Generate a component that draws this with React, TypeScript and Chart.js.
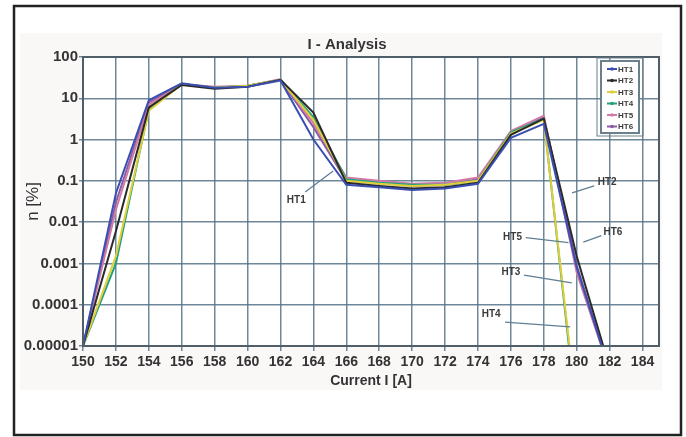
import React, { useEffect, useRef } from "react";
import { Chart, registerables } from "chart.js";

Chart.register(...registerables);

// ---- data ----
const currents = [150, 152, 154, 156, 158, 160, 162, 164, 166, 168, 170, 172, 174, 176, 178, 180, 182];
const ht1 = [1e-5, 0.05, 9, 23, 18, 19, 27, 1.0, 0.08, 0.07, 0.06, 0.065, 0.085, 1.1, 2.4, 0.0008, 2.5e-6];
const ht2 = [1e-5, 0.006, 6, 21, 17, 19, 28, 4.5, 0.09, 0.075, 0.065, 0.07, 0.09, 1.3, 3.2, 0.0015, 3e-6];
const ht3 = [1e-5, 0.0015, 5, 22, 18, 20, 28, 3, 0.1, 0.085, 0.075, 0.08, 0.1, 1.4, 3.0, 3e-7, 1e-8];
const ht4 = [1e-5, 0.001, 5.5, 22, 18, 20, 28, 3.5, 0.11, 0.09, 0.08, 0.08, 0.1, 1.5, 3.2, 2e-7, 1e-8];
const ht5 = [1e-5, 0.02, 7, 22, 19, 20, 29, 2.5, 0.12, 0.1, 0.085, 0.09, 0.12, 1.6, 3.8, 0.0006, 2.5e-6];
const ht6 = [1e-5, 0.03, 8, 22, 18, 20, 28, 2, 0.1, 0.09, 0.075, 0.08, 0.11, 1.4, 3.5, 0.0009, 2.5e-6];

const seriesNames = ["HT1", "HT2", "HT3", "HT4", "HT5", "HT6"];
const seriesValues = [ht1, ht2, ht3, ht4, ht5, ht6];
const seriesColors = ["#3a4fb0", "#2a2a2a", "#e0cf3a", "#23a07e", "#d07aa8", "#8a5aa8"];

const xTicks = [150, 152, 154, 156, 158, 160, 162, 164, 166, 168, 170, 172, 174, 176, 178, 180, 182, 184];
const yTicks = [1e-5, 1e-4, 1e-3, 1e-2, 1e-1, 1, 10, 100];
const yTickLabels = ["0.00001", "0.0001", "0.001", "0.01", "0.1", "1", "10", "100"];

const chartTitle = "I - Analysis";
const xTitle = "Current I [A]";
const yTitle = "n [%]";

// callout labels: text anchor and leader line, in data units
const calloutNames = ["HT1", "HT2", "HT6", "HT5", "HT3", "HT4"];
const calloutText = [[162.96, 0.0346], [181.85, 0.093], [182.2, 0.0057], [176.1, 0.0044], [176.0, 0.00062], [174.8, 0.00006]];
const calloutFrom = [[163.5, 0.054], [181.06, 0.076], [181.5, 0.0047], [176.9, 0.0042], [176.8, 0.00052], [175.65, 0.000038]];
const calloutTo = [[165.2, 0.174], [179.72, 0.051], [180.4, 0.0033], [179.5, 0.0032], [179.7, 0.00034], [179.6, 0.000029]];

const FONT = "'Liberation Sans', Arial, sans-serif";
const GRID = "rgba(85,115,135,0.85)";

const decorPlugin = {
  id: "decor",
  beforeDraw(chart: any) {
    const ctx = chart.ctx;
    ctx.save();
    ctx.fillStyle = "#ffffff";
    ctx.fillRect(0, 0, chart.width, chart.height);
    ctx.fillStyle = "#faf7f7";
    ctx.fillRect(20, 33, 642, 357);
    const a = chart.chartArea;
    ctx.fillStyle = "#ffffff";
    ctx.fillRect(a.left, a.top, a.right - a.left, a.bottom - a.top);
    ctx.restore();
  },
  afterDatasetsDraw(chart: any) {
    const ctx = chart.ctx;
    const a = chart.chartArea;
    const xs = chart.scales.x;
    const ys = chart.scales.y;
    ctx.save();
    // plot frame
    ctx.strokeStyle = "#4f5f6a";
    ctx.lineWidth = 2;
    ctx.strokeRect(a.left, a.top, a.right - a.left, a.bottom - a.top);

    // callouts
    ctx.strokeStyle = "#5f7f95";
    ctx.lineWidth = 1.3;
    ctx.fillStyle = "#3a3a3a";
    ctx.font = `bold 10px ${FONT}`;
    ctx.textAlign = "center";
    ctx.textBaseline = "middle";
    calloutNames.forEach((n, i) => {
      ctx.beginPath();
      ctx.moveTo(xs.getPixelForValue(calloutFrom[i][0]), ys.getPixelForValue(calloutFrom[i][1]));
      ctx.lineTo(xs.getPixelForValue(calloutTo[i][0]), ys.getPixelForValue(calloutTo[i][1]));
      ctx.stroke();
      ctx.fillText(n, xs.getPixelForValue(calloutText[i][0]), ys.getPixelForValue(calloutText[i][1]));
    });

    // legend box
    const lx = a.right - 58;
    const ly = a.top + 4;
    const lw = 38;
    const lh = 72;
    ctx.fillStyle = "#ffffff";
    ctx.fillRect(lx, ly, lw, lh);
    ctx.strokeStyle = "#6b7f8c";
    ctx.lineWidth = 2;
    ctx.strokeRect(lx, ly, lw, lh);
    ctx.lineWidth = 1;
    ctx.strokeRect(lx - 4, ly - 3, lw + 8, lh + 6);
    ctx.font = `bold 8px ${FONT}`;
    ctx.textAlign = "left";
    seriesNames.forEach((n, i) => {
      const yy = ly + 8 + i * 11.5;
      ctx.strokeStyle = seriesColors[i];
      ctx.lineWidth = 2;
      ctx.beginPath();
      ctx.moveTo(lx + 6, yy);
      ctx.lineTo(lx + 16, yy);
      ctx.stroke();
      ctx.fillStyle = seriesColors[i];
      ctx.beginPath();
      ctx.arc(lx + 11, yy, 1.8, 0, Math.PI * 2);
      ctx.fill();
      ctx.fillStyle = "#3a3a3a";
      ctx.fillText(n, lx + 17, yy + 0.5);
    });

    ctx.restore();
  },
  afterDraw(chart: any) {
    const ctx = chart.ctx;
    const a = chart.chartArea;
    ctx.save();
    ctx.fillStyle = "#333333";
    ctx.textAlign = "center";
    ctx.textBaseline = "middle";
    ctx.font = `bold 15px ${FONT}`;
    ctx.fillText(chartTitle, 347, 45);
    ctx.font = `bold 14px ${FONT}`;
    ctx.fillText(xTitle, (a.left + a.right) / 2, 381);
    ctx.font = `17px ${FONT}`;
    ctx.translate(33, (a.top + a.bottom) / 2);
    ctx.rotate(-Math.PI / 2);
    ctx.fillText(yTitle, 0, 0);
    ctx.restore();
    // outer frame
    ctx.save();
    ctx.strokeStyle = "#222222";
    ctx.lineWidth = 2.5;
    ctx.strokeRect(14, 6, 667, 429);
    ctx.restore();
  },
};

export default function App() {
  const ref = useRef<HTMLCanvasElement | null>(null);

  useEffect(() => {
    if (!ref.current) return;
    const chart = new Chart(ref.current, {
      type: "line",
      data: {
        datasets: seriesNames.map((name, i) => ({
          label: name,
          data: currents.map((c, j) => ({ x: c, y: seriesValues[i][j] })),
          borderColor: seriesColors[i],
          backgroundColor: seriesColors[i],
          borderWidth: 2,
          pointRadius: 0,
          tension: 0,
          fill: false,
        })),
      },
      options: {
        animation: false,
        responsive: false,
        devicePixelRatio: 1,
        layout: { padding: { left: 0, top: 57, right: 27, bottom: 61 } },
        plugins: {
          legend: { display: false },
          title: { display: false },
          tooltip: { enabled: false },
        },
        scales: {
          x: {
            type: "linear",
            min: 150,
            max: 185,
            afterBuildTicks: (s: any) => {
              s.ticks = xTicks.map((v) => ({ value: v }));
            },
            afterFit: (s: any) => {
              s.height = 30;
            },
            grid: { color: GRID, lineWidth: 1.5, tickLength: 5, drawTicks: true },
            border: { display: false },
            ticks: {
              autoSkip: false,
              maxRotation: 0,
              padding: 3,
              color: "#333333",
              font: { family: FONT, size: 14, weight: "bold" },
              callback: (v: any) => String(v),
            },
          },
          y: {
            type: "logarithmic",
            min: 1e-5,
            max: 100,
            afterBuildTicks: (s: any) => {
              s.ticks = yTicks.map((v) => ({ value: v }));
            },
            afterFit: (s: any) => {
              s.width = 83;
            },
            grid: { color: GRID, lineWidth: 1.5, tickLength: 4, drawTicks: true },
            border: { display: false },
            ticks: {
              autoSkip: false,
              padding: 1,
              color: "#333333",
              font: { family: FONT, size: 15, weight: "bold" },
              callback: (_v: any, idx: number) => yTickLabels[idx],
            },
          },
        },
      },
      plugins: [decorPlugin],
    });
    return () => chart.destroy();
  }, []);

  return (
    <div style={{ position: "absolute", left: 0, top: 0, width: 686, height: 437 }}>
      <canvas ref={ref} width={686} height={437} style={{ width: 686, height: 437, display: "block" }} />
    </div>
  );
}
